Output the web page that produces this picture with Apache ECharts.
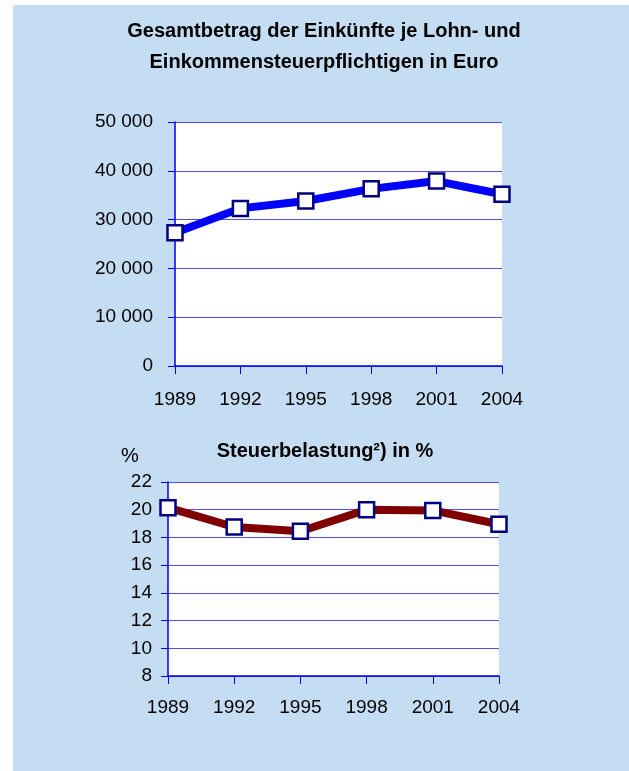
<!DOCTYPE html>
<html>
<head>
<meta charset="utf-8">
<script src="https://cdn.jsdelivr.net/npm/echarts@6/dist/echarts.min.js"></script>
<style>
  html, body { margin: 0; padding: 0; background: #fff; }
  #panel { position: absolute; left: 13px; top: 5px; width: 616px; height: 766px; background: #c5ddf2; }
  #chart { position: absolute; left: 0; top: 0; width: 629px; height: 771px; }
</style>
</head>
<body>
<div id="panel"></div>
<div id="chart"></div>
<script>
const years = ['1989', '1992', '1995', '1998', '2001', '2004']
// Gesamtbetrag der Einkünfte je Steuerpflichtigen (Euro)
const einkuenfte = [27300, 32300, 33800, 36300, 37900, 35200]
// Steuerbelastung in %
const belastung = [20.15, 18.75, 18.45, 20.0, 19.95, 18.95]

const font = "'Liberation Sans Narrow', 'Arial Narrow', 'Liberation Sans', sans-serif"
const axisBlue = '#0000ee'
const gridBlue = '#5050f0'

const myChart = echarts.init(document.getElementById('chart'))

function yAxisOf(idx, min, max, interval, margin, fmt) {
  return {
    gridIndex: idx,
    type: 'value',
    min: min,
    max: max,
    interval: interval,
    axisLine: { show: true, lineStyle: { color: axisBlue, width: 1.5 } },
    axisTick: { show: true, length: 7, lineStyle: { color: axisBlue } },
    splitLine: { show: true, lineStyle: { color: gridBlue, width: 1 } },
    axisLabel: { color: '#000', fontFamily: font, fontSize: 19, margin: margin, formatter: fmt },
  }
}

function xAxisOf(idx, margin) {
  return {
    gridIndex: idx,
    type: 'category',
    data: years,
    boundaryGap: false,
    axisLine: { show: true, lineStyle: { color: axisBlue, width: 1.5 } },
    axisTick: { show: true, length: 8, alignWithLabel: true, lineStyle: { color: axisBlue } },
    splitLine: { show: false },
    axisLabel: { color: '#000', fontFamily: font, fontSize: 19, margin: margin, interval: 0 },
  }
}

const option = {
  animation: false,
  title: [
    {
      text: 'Gesamtbetrag der Einkünfte je Lohn- und\nEinkommensteuerpflichtigen in Euro',
      left: 319,
      top: 11,
      textAlign: 'center',
      textStyle: { fontFamily: font, fontSize: 20, fontWeight: 'bold', color: '#000', lineHeight: 31 },
    },
    {
      text: 'Steuerbelastung²) in %',
      left: 320,
      top: 436,
      textAlign: 'center',
      textStyle: { fontFamily: font, fontSize: 20, fontWeight: 'bold', color: '#000' },
    },
  ],
  graphic: [
    {
      type: 'text',
      left: 121,
      top: 446,
      style: { text: '%', fontFamily: font, fontSize: 20, fill: '#000' },
    },
  ],
  grid: [
    { left: 175, top: 122, width: 327, height: 244, show: true, backgroundColor: '#fff', borderWidth: 0 },
    { left: 168, top: 482, width: 331, height: 194, show: true, backgroundColor: '#fff', borderWidth: 0 },
  ],
  xAxis: [xAxisOf(0, 24), xAxisOf(1, 22)],
  yAxis: [
    yAxisOf(0, 0, 50000, 10000, 22, function (v) {
      return v === 0 ? '0' : String(v / 1000) + ' 000'
    }),
    yAxisOf(1, 8, 22, 2, 16, null),
  ],
  series: [
    {
      name: 'Einkünfte',
      type: 'line',
      xAxisIndex: 0,
      yAxisIndex: 0,
      data: einkuenfte,
      symbol: 'rect',
      symbolSize: 15,
      lineStyle: { color: '#0000ff', width: 8 },
      itemStyle: { color: '#fff', borderColor: '#000080', borderWidth: 2.5 },
    },
    {
      name: 'Steuerbelastung',
      type: 'line',
      xAxisIndex: 1,
      yAxisIndex: 1,
      data: belastung,
      symbol: 'rect',
      symbolSize: 15,
      lineStyle: { color: '#800000', width: 8 },
      itemStyle: { color: '#fff', borderColor: '#000080', borderWidth: 2.5 },
    },
  ],
}
myChart.setOption(option)
</script>
</body>
</html>
